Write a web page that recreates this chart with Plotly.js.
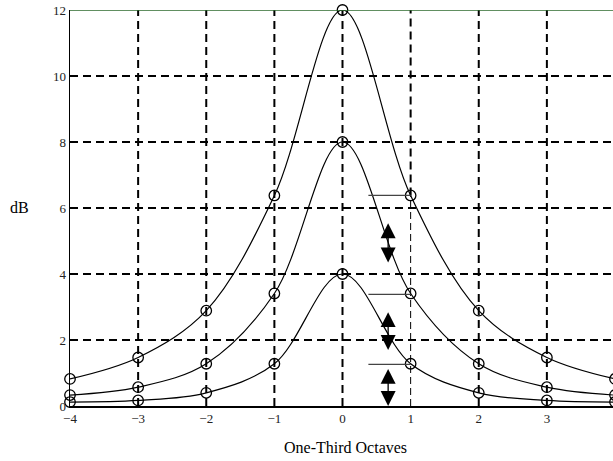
<!DOCTYPE html>
<html>
<head>
<meta charset="utf-8">
<script src="https://cdn.plot.ly/plotly-3.0.1.min.js"></script>
<style>
  html, body { margin: 0; padding: 0; overflow: hidden; background: #fff; }
  #chart { width: 620px; height: 461px; }
</style>
</head>
<body>
<div id="chart"></div>
<script>
// One-third octave band positions
const octaves = [-4, -3, -2, -1, 0, 1, 2, 3, 4];

// Level (dB) of the three responses at each band
const curve12 = [0.82, 1.47, 2.89, 6.38, 12.0, 6.38, 2.89, 1.47, 0.82];
const curve8  = [0.33, 0.57, 1.28, 3.41, 8.0, 3.41, 1.28, 0.57, 0.33];
const curve4  = [0.12, 0.17, 0.40, 1.28, 4.0, 1.28, 0.40, 0.17, 0.12];

// Reference marks at the +1 band: short leaders and double arrows
const leaderStart = 0.38;
const leaderEnd = 1;
const leaderLevels = [6.38, 3.38, 1.26];
const arrowX = 0.67;
const arrowTop = [5.58, 2.89, 1.17];
const arrowBottom = [4.35, 1.70, 0.0];

// Tick values (the +4 band label falls outside the page)
const xGrid = [-4, -3, -2, -1, 0, 1, 2, 3, 4];
const xLabels = [-4, -3, -2, -1, 0, 1, 2, 3];
const yTicks = [0, 2, 4, 6, 8, 10, 12];

const serif = 'Liberation Serif, Times New Roman, serif';

const traces = [];
[curve12, curve8, curve4].forEach(function (vals) {
  traces.push({
    x: octaves, y: vals, type: 'scatter', mode: 'lines+markers',
    line: { color: '#000', width: 1.2, shape: 'spline', smoothing: 1 },
    marker: { symbol: 'circle-open', size: 10.5, color: '#000', line: { width: 1.3, color: '#000' } },
    cliponaxis: false, hoverinfo: 'skip'
  });
});

leaderLevels.forEach(function (lv) {
  traces.push({
    x: [leaderStart, leaderEnd], y: [lv, lv], type: 'scatter', mode: 'lines',
    line: { color: '#444', width: 1.3 }, hoverinfo: 'skip'
  });
});

// Dashed grid drawn as shapes; the +1 line turns thin below the top curve
const shapes = [];
const gridDash = '8px,5px';
yTicks.forEach(function (v) {
  if (v === 0 || v === 12) return;
  shapes.push({ type: 'line', xref: 'paper', x0: 0, x1: 1, yref: 'y', y0: v, y1: v,
    line: { color: '#000', width: 2, dash: gridDash }, layer: 'below' });
});
xGrid.forEach(function (v) {
  if (v === -4) return;
  if (v === 1) {
    const split = curve12[octaves.indexOf(1)];
    shapes.push({ type: 'line', xref: 'x', x0: v, x1: v, yref: 'y', y0: split, y1: 12,
      line: { color: '#000', width: 2, dash: gridDash }, layer: 'below' });
    shapes.push({ type: 'line', xref: 'x', x0: v, x1: v, yref: 'y', y0: 0, y1: split,
      line: { color: '#000', width: 1, dash: '7px,4px' }, layer: 'below' });
    return;
  }
  shapes.push({ type: 'line', xref: 'x', x0: v, x1: v, yref: 'paper', y0: 0, y1: 1,
    line: { color: '#000', width: 2, dash: gridDash }, layer: 'below' });
});
// Top frame line
shapes.push({ type: 'line', xref: 'paper', x0: 0, x1: 1, yref: 'y', y0: 12, y1: 12,
  line: { color: '#2d6a2d', width: 1.6 } });

const annotations = [];
arrowTop.forEach(function (t, i) {
  annotations.push({
    x: arrowX, y: arrowBottom[i], ax: arrowX, ay: t,
    xref: 'x', yref: 'y', axref: 'x', ayref: 'y',
    text: '', showarrow: true, arrowside: 'end+start',
    arrowhead: 2, startarrowhead: 2, arrowsize: 2.3, startarrowsize: 2.3,
    arrowwidth: 1.3, arrowcolor: '#000', standoff: 0, startstandoff: 0
  });
});
annotations.push({
  text: 'dB', xref: 'paper', yref: 'paper', x: -0.092, y: 0.5025,
  xanchor: 'center', yanchor: 'middle', showarrow: false,
  font: { family: serif, size: 16, color: '#000' }
});
annotations.push({
  text: 'One-Third Octaves', xref: 'paper', yref: 'paper', x: 0.506, y: -0.106,
  xanchor: 'center', yanchor: 'middle', showarrow: false,
  font: { family: serif, size: 16, color: '#000' }
});

const layout = {
  width: 620, height: 461,
  margin: { l: 70, r: 5, t: 10, b: 55 },
  paper_bgcolor: '#fff', plot_bgcolor: '#fff',
  showlegend: false,
  xaxis: {
    range: [-4, 4], tickvals: xLabels, showgrid: false, zeroline: false,
    showline: true, linecolor: '#000', linewidth: 1.5, ticks: '',
    ticklabelstandoff: 0,
    tickfont: { family: serif, size: 13, color: '#222' }
  },
  yaxis: {
    range: [0, 12], tickvals: yTicks, showgrid: false, zeroline: false,
    showline: true, linecolor: '#000', linewidth: 1.5, ticks: '',
    tickfont: { family: serif, size: 13, color: '#222' }
  },
  shapes: shapes,
  annotations: annotations
};

Plotly.newPlot('chart', traces, layout, { staticPlot: true, displayModeBar: false });
</script>
</body>
</html>
